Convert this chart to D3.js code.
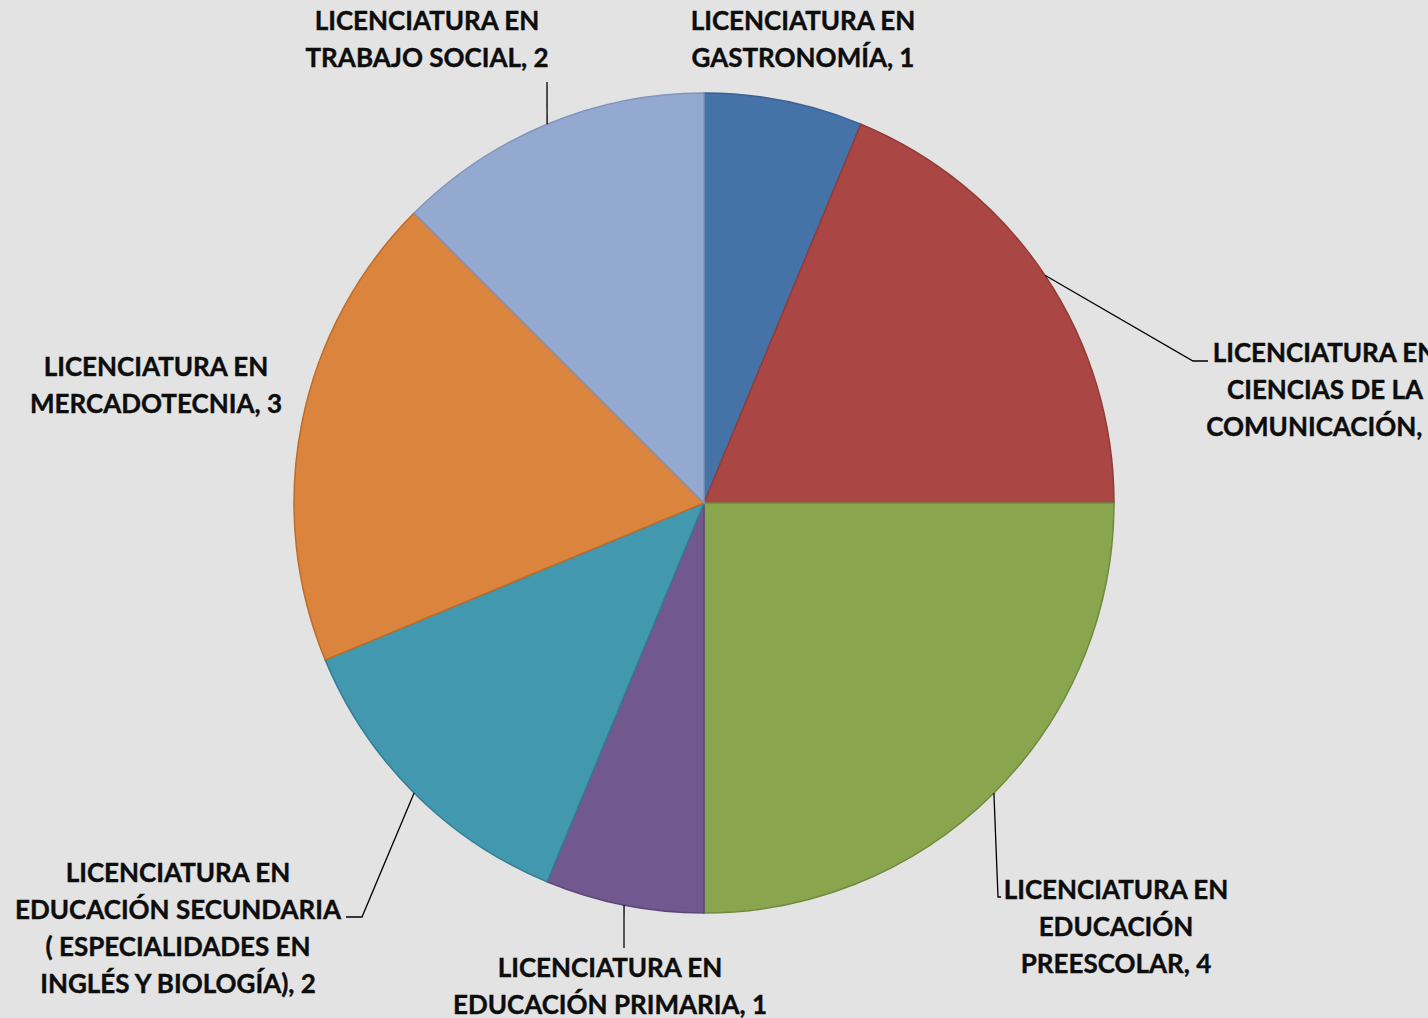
<!DOCTYPE html>
<html><head><meta charset="utf-8">
<script src="https://cdn.jsdelivr.net/npm/d3@7"></script>
<style>html,body{margin:0;padding:0;background:#e3e3e3;overflow:hidden}</style>
</head><body>
<svg id="c" width="1428" height="1018"></svg>
<script>
const categories = [
  "LICENCIATURA EN GASTRONOMÍA",
  "LICENCIATURA EN CIENCIAS DE LA COMUNICACIÓN",
  "LICENCIATURA EN EDUCACIÓN PREESCOLAR",
  "LICENCIATURA EN EDUCACIÓN PRIMARIA",
  "LICENCIATURA EN EDUCACIÓN SECUNDARIA ( ESPECIALIDADES EN INGLÉS Y BIOLOGÍA)",
  "LICENCIATURA EN MERCADOTECNIA",
  "LICENCIATURA EN TRABAJO SOCIAL"
];
const values = [1, 3, 4, 1, 2, 3, 2];
const labelLines = [
  ["LICENCIATURA EN", "GASTRONOMÍA, 1"],
  ["LICENCIATURA EN", "CIENCIAS DE LA", "COMUNICACIÓN, 3"],
  ["LICENCIATURA EN", "EDUCACIÓN", "PREESCOLAR, 4"],
  ["LICENCIATURA EN", "EDUCACIÓN PRIMARIA, 1"],
  ["LICENCIATURA EN", "EDUCACIÓN SECUNDARIA", "( ESPECIALIDADES EN", "INGLÉS Y BIOLOGÍA), 2"],
  ["LICENCIATURA EN", "MERCADOTECNIA, 3"],
  ["LICENCIATURA EN", "TRABAJO SOCIAL, 2"]
];
const fills   = ["#4572a7", "#aa4643", "#89a54e", "#71588f", "#4198af", "#db843d", "#93a9cf"];
const strokes = ["#3a6395", "#953b38", "#6f8a3c", "#5d4878", "#347f93", "#bd6d2c", "#7f95bb"];

// layout (positions only)
const cx = 704, cy = 503, R = 410, lineH = 37;
const labelPos = [ // center x, first line center y
  [803, 21], [1325, 353], [1116, 890], [610, 968], [178, 873], [156, 367], [427, 21]
];
const leaderEnds = [ // polyline after arc point, or null
  null,
  [[1193, 361], [1208, 361]],
  [[998, 897], [1001, 897]],
  [[624, 948]],
  [[362, 917], [346, 917]],
  null,
  [[547, 82]]
];

const svg = d3.select("#c");
const g = svg.append("g").attr("transform", `translate(${cx},${cy})`);
const pie = d3.pie().sort(null).value(d => d)(values);
const arc = d3.arc().innerRadius(0).outerRadius(R);

g.selectAll("path.slice").data(pie).join("path")
  .attr("class", "slice")
  .attr("d", arc)
  .attr("fill", (d, i) => fills[i])
  .attr("stroke", (d, i) => strokes[i])
  .attr("stroke-width", 1.5);

// leader lines
pie.forEach((d, i) => {
  if (!leaderEnds[i]) return;
  const a = (d.startAngle + d.endAngle) / 2;
  const p0 = [cx + R * Math.sin(a), cy - R * Math.cos(a)];
  const pts = [p0, ...leaderEnds[i]];
  svg.append("path")
    .attr("d", d3.line()(pts))
    .attr("fill", "none")
    .attr("stroke", "#000")
    .attr("stroke-width", 1.3);
});

// labels
labelLines.forEach((lines, i) => {
  const t = svg.append("text")
    .attr("text-anchor", "middle")
    .attr("font-family", "Lato, 'Open Sans', sans-serif")
    .attr("font-weight", "bold")
    .attr("font-size", 26)
    .attr("fill", "#0d0d0d")
    .attr("stroke", "#0d0d0d")
    .attr("stroke-width", 0.4);
  lines.forEach((ln, k) => {
    t.append("tspan")
      .attr("x", labelPos[i][0])
      .attr("y", labelPos[i][1] + k * lineH)
      .attr("dy", "0.35em")
      .text(ln);
  });
});
</script>
</body></html>
